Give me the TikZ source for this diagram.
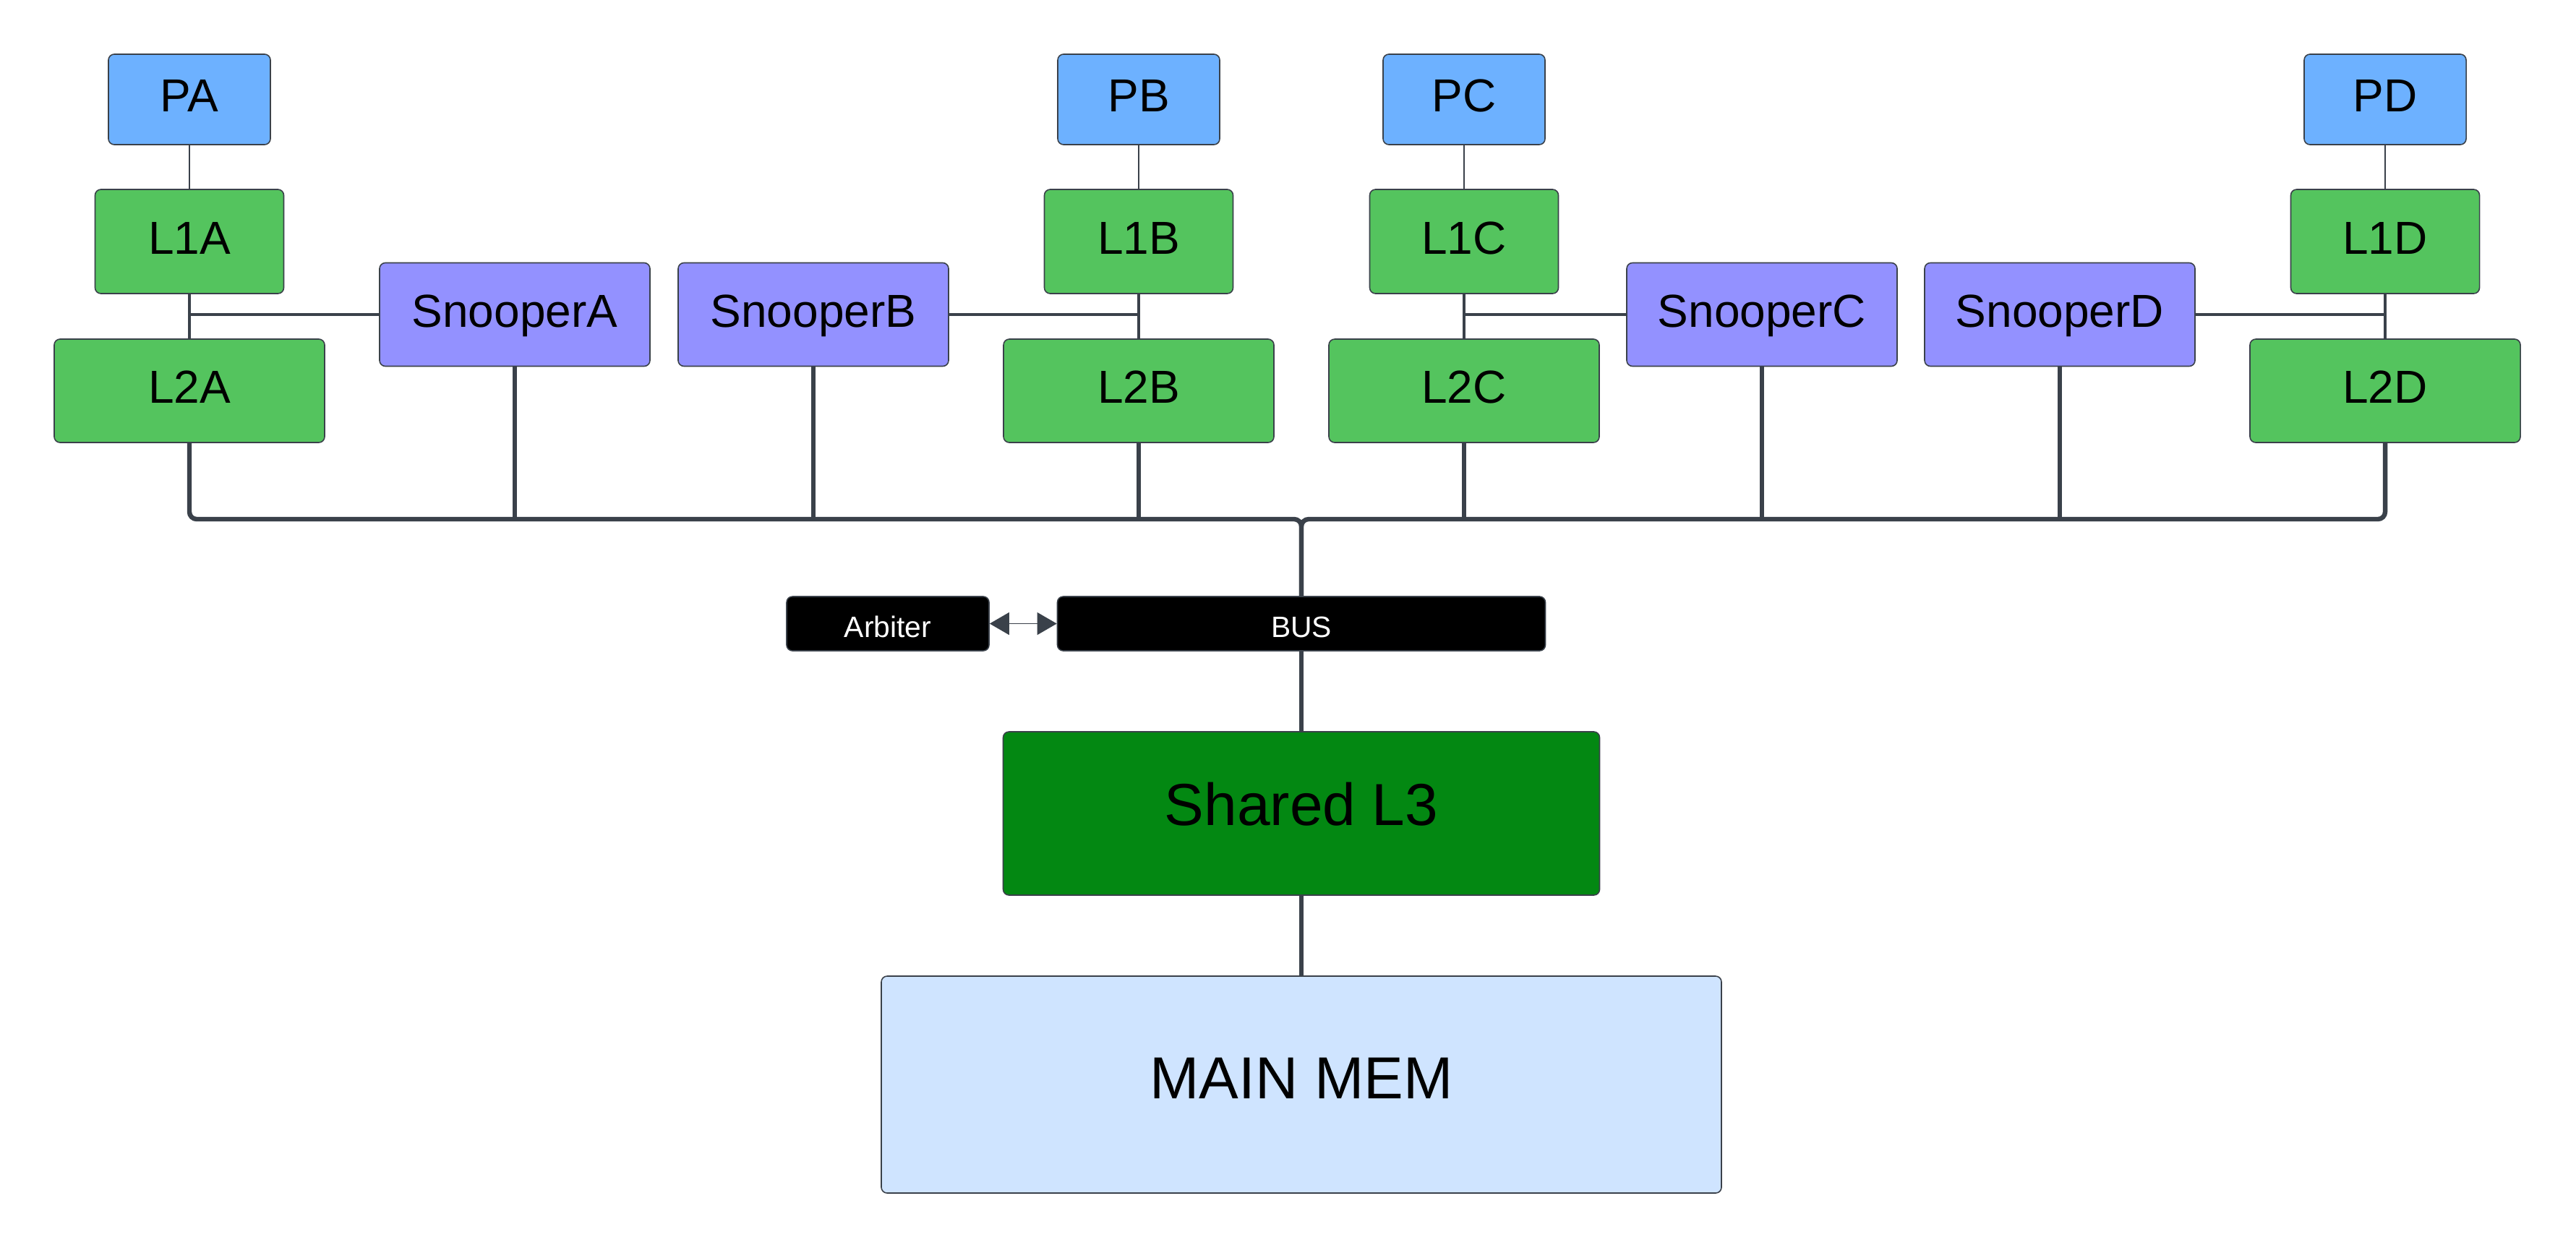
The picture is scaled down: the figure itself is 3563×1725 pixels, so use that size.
\documentclass[tikz,border=0pt]{standalone}
\usepackage{fontspec}
\setmainfont{Liberation Sans}
\usetikzlibrary{arrows.meta}
\definecolor{edge}{HTML}{3A414A}
\definecolor{cpublue}{HTML}{6DB1FF}
\definecolor{cachegreen}{HTML}{54C45E}
\definecolor{snooppurple}{HTML}{9391FF}
\definecolor{lthree}{HTML}{038812}
\definecolor{memblue}{HTML}{CFE4FF}
\begin{document}
\begin{tikzpicture}[x=0.25pt,y=-0.25pt,
  blk/.style={draw=edge,line width=0.4pt,rounded corners=2pt,inner sep=0pt,font=\fontsize{16}{19}\selectfont,text height=11.46pt,text depth=2.8pt},
  cpu/.style={blk,fill=cpublue,minimum width=56pt,minimum height=31.25pt},
  lone/.style={blk,fill=cachegreen,minimum width=65.25pt,minimum height=36pt},
  ltwo/.style={blk,fill=cachegreen,minimum width=93.5pt,minimum height=35.75pt},
  snoop/.style={blk,fill=snooppurple,minimum width=93.5pt,minimum height=35.75pt},
  ctrl/.style={blk,fill=black,text=white,minimum height=18.75pt,font=\fontsize{10.2}{12}\selectfont,text height=9.3pt,text depth=0pt},
  big/.style={blk,font=\fontsize{20.5}{24}\selectfont,text height=14.7pt},
  wire/.style={draw=edge,line width=#1}]
\useasboundingbox (0,0) rectangle (3563,1725);
\def\yp{137.5};
\def\yl{334};
\def\ys{435};
\def\yb{718};
% processors and their caches
\node[cpu] (PA) at (262,\yp) {PA};
\node[lone] (L1A) at (262,\yl) {L1A};
\node[ltwo] (L2A) at (262,540.5) {L2A};
\node[cpu] (PB) at (1575,\yp) {PB};
\node[lone] (L1B) at (1575,\yl) {L1B};
\node[ltwo] (L2B) at (1575,540.5) {L2B};
\node[cpu] (PC) at (2025,\yp) {PC};
\node[lone] (L1C) at (2025,\yl) {L1C};
\node[ltwo] (L2C) at (2025,540.5) {L2C};
\node[cpu] (PD) at (3299,\yp) {PD};
\node[lone] (L1D) at (3299,\yl) {L1D};
\node[ltwo] (L2D) at (3299,540.5) {L2D};
% snoopers
\node[snoop] (SA) at (712,\ys) {SnooperA};
\node[snoop] (SB) at (1125,\ys) {SnooperB};
\node[snoop] (SC) at (2437,\ys) {SnooperC};
\node[snoop] (SD) at (2849,\ys) {SnooperD};
% shared part
\node[ctrl,minimum width=70pt] (ARB) at (1228,862.5) {Arbiter};
\node[ctrl,minimum width=168.75pt] (BUS) at (1800,862.5) {BUS};
\node[big,fill=lthree,minimum width=206.25pt,minimum height=56.5pt,text depth=6.5pt] (L3) at (1800,1125) {Shared L3};
\node[big,fill=memblue,minimum width=290.5pt,minimum height=75pt,text depth=5pt] (MEM) at (1800,1500) {MAIN MEM};
\coordinate (hub) at (1800,\yb);
% links
\draw[wire=0.65pt] (PA) -- (L1A);
\draw[wire=0.65pt] (PB) -- (L1B);
\draw[wire=0.65pt] (PC) -- (L1C);
\draw[wire=0.65pt] (PD) -- (L1D);
\draw[wire=1pt] (L1A) -- (L2A);
\draw[wire=1pt] (L1B) -- (L2B);
\draw[wire=1pt] (L1C) -- (L2C);
\draw[wire=1pt] (L1D) -- (L2D);
\draw[wire=1.1pt] (SA.west) -- (SA.west -| L1A.south);
\draw[wire=1.1pt] (SB.east) -- (SB.east -| L1B.south);
\draw[wire=1.1pt] (SC.west) -- (SC.west -| L1C.south);
\draw[wire=1.1pt] (SD.east) -- (SD.east -| L1D.south);
% bus
\draw[wire=1.6pt,rounded corners=2.5pt] (L2A.south) |- (hub) -- (BUS.north);
\draw[wire=1.6pt,rounded corners=2.5pt] (L2D.south) |- (hub) -- (BUS.north);
\draw[wire=1.6pt] (SA.south) -- (SA.south |- hub);
\draw[wire=1.6pt] (SB.south) -- (SB.south |- hub);
\draw[wire=1.6pt] (L2B.south) -- (L2B.south |- hub);
\draw[wire=1.6pt] (L2C.south) -- (L2C.south |- hub);
\draw[wire=1.6pt] (SC.south) -- (SC.south |- hub);
\draw[wire=1.6pt] (SD.south) -- (SD.south |- hub);
\draw[wire=0.3pt,{Triangle[length=6.75pt,width=7.75pt]}-{Triangle[length=6.75pt,width=7.75pt]},fill=edge] (ARB) -- (BUS);
\draw[wire=1.5pt] (BUS) -- (L3);
\draw[wire=1.5pt] (L3) -- (MEM);
\end{tikzpicture}
\end{document}
